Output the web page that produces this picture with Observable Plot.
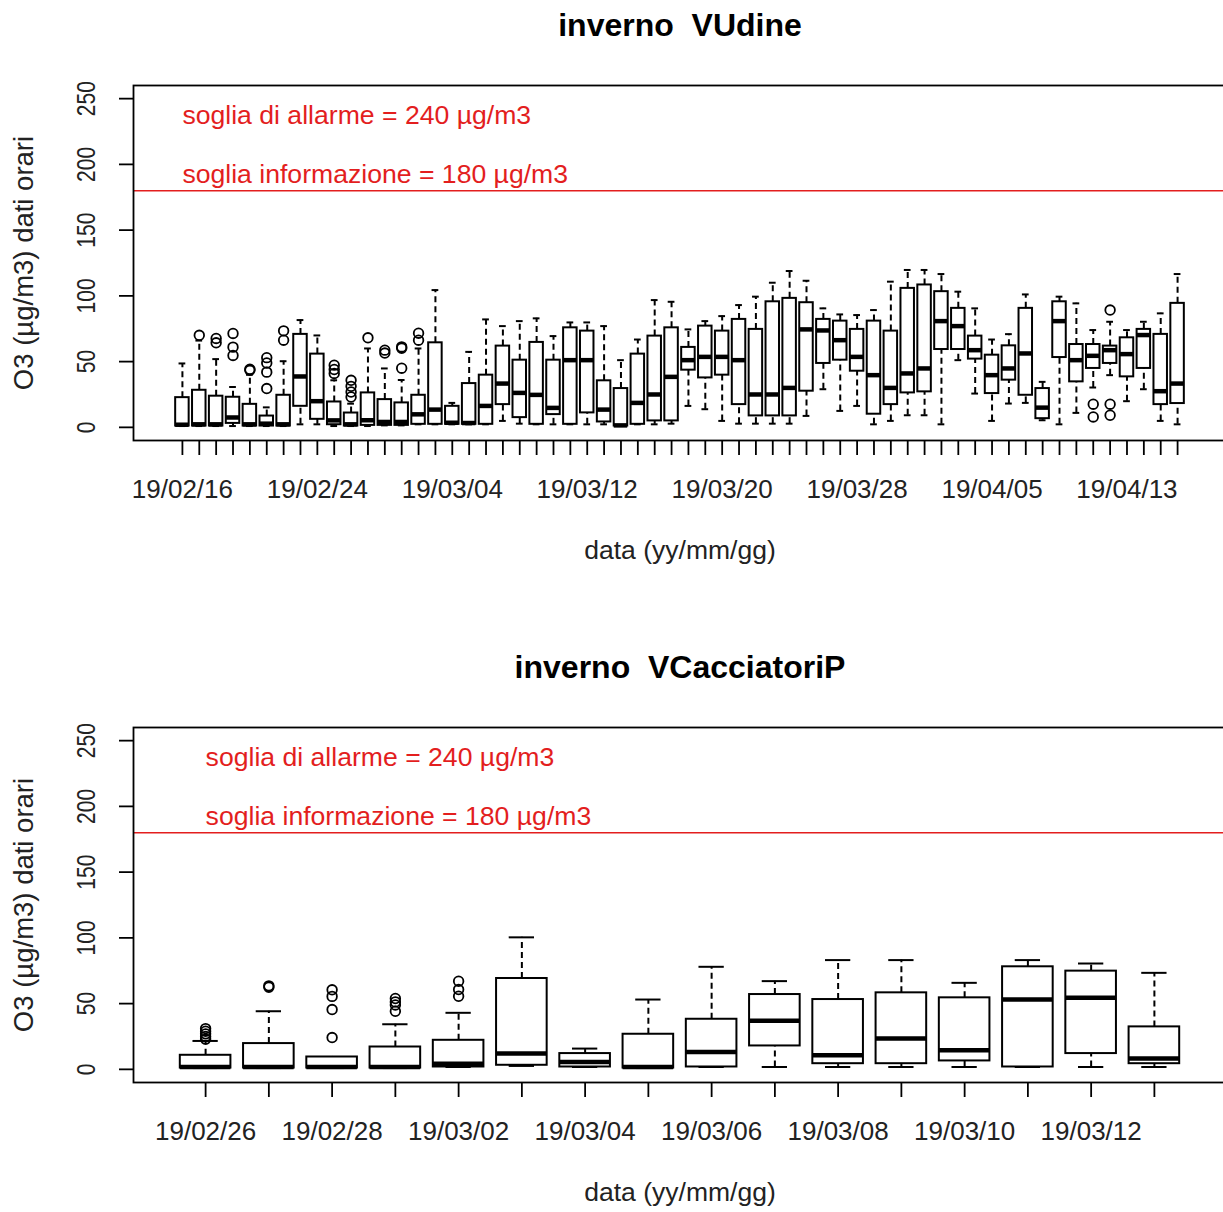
<!DOCTYPE html>
<html>
<head>
<meta charset="utf-8">
<script src="https://cdn.jsdelivr.net/npm/d3@7"></script>
<script src="https://cdn.jsdelivr.net/npm/@observablehq/plot@0.6"></script>
<style>
html, body { margin: 0; padding: 0; background: #fff; overflow: hidden; width: 1223px; }
#chart svg { display: block; max-width: none; }
</style>
</head>
<body>
<div id="chart"></div>
<script>
// ---------- Panel 1: inverno VUdine ----------
const udineTitle = "inverno  VUdine";
const udineDates = [
  "19/02/16","19/02/17","19/02/18","19/02/19","19/02/20","19/02/21","19/02/22","19/02/23","19/02/24","19/02/25",
  "19/02/26","19/02/27","19/02/28","19/03/01","19/03/02","19/03/03","19/03/04","19/03/05","19/03/06","19/03/07",
  "19/03/08","19/03/09","19/03/10","19/03/11","19/03/12","19/03/13","19/03/14","19/03/15","19/03/16","19/03/17",
  "19/03/18","19/03/19","19/03/20","19/03/21","19/03/22","19/03/23","19/03/24","19/03/25","19/03/26","19/03/27",
  "19/03/28","19/03/29","19/03/30","19/03/31","19/04/01","19/04/02","19/04/03","19/04/04","19/04/05","19/04/06",
  "19/04/07","19/04/08","19/04/09","19/04/10","19/04/11","19/04/12","19/04/13","19/04/14","19/04/15","19/04/16"
];
const udineShown = ["19/02/16","19/02/24","19/03/04","19/03/12","19/03/20","19/03/28","19/04/05","19/04/13"];
const udineLo  = [1,1,1,1,1,1,1,2.3,2.3,1, 1,1,1.5,1.5,2.3,2.3,2.3,2.3,2.3,4.9, 2.8,2.3,2.3,2.3,2.3,2.3,1,2.3,2.3,2.8,
                  16.3,13.8,4.9,2.8,2.8,2.8,2.8,8.7,29,12.5, 16.3,2.3,4.9,9.2,9.2,2.3,51.1,25.7,4.9,18.1, 18.6,5.4,2.3,11,30.3,39.7,19.9,29,4.9,2.3];
const udineQ1  = [1,1,1,3,1,1,1,16,6.1,2, 1,1.5,1.5,1.5,2.3,2.3,2.3,2.3,2.3,17.3, 7.4,2.3,9.7,2.3,11,4.1,1,2.3,4.9,4.9,
                  43.5,37.6,39.7,17.3,8.7,8.7,8.7,27.5,48.6,51.1, 42.7,10,17.3,26.2,27,59.2,59.2,51.9,25.7,35.9, 24.4,6.6,53.1,34.6,44.8,48.6,38.4,44.8,17.3,18.1];
const udineMed = [2,2.3,2.3,7.5,2.3,2.8,2.3,38.7,19.9,5.3, 2.3,5.4,4.1,4.1,9.9,13.5,3.5,3.3,16.3,33.3, 26.2,24.7,14.8,51.1,51.1,13.5,1.5,18.6,25,38.4,
                  51.1,53.6,53.6,51.1,25,25,30,74.5,73.7,66.3, 53.6,39.7,30,41,44.8,80.8,77,58.7,39.7,44.8, 56.2,15,80.8,51.1,54.4,58.7,55.7,70.2,27.5,33.3];
const udineQ3  = [22.6,28.2,23.7,22.9,17.5,8.6,24.4,70.7,55.7,19.3, 10.9,26.2,21.1,18.6,24.4,64.3,16,33.3,39.7,61.8, 51.1,64.6,51.1,75.7,73.2,35.4,29.5,55.7,69.4,75.7,
                  60.8,77,73.2,82.1,74.5,95.5,98.1,94.8,82.1,80.8, 74.5,80.8,73.2,105.7,108.3,103.2,90.5,69.4,54.9,62, 90.5,29.5,95.5,63,63,61.8,68.1,74.5,70.7,94.3];
const udineHi  = [48.6,66,51.9,30.7,40,15.2,50.3,81.6,69.9,35.8, 18,60,44.8,36,60,104.4,18.6,57.4,82.1,77, 80.8,82.9,69.4,79.8,79.8,77,51.1,66.8,96.8,95.5,
                  74.5,80.8,84.6,93,99.4,110,118.9,111.5,90.5,85.9, 85.4,89.2,110.8,119.7,119.7,116.6,103.2,90.5,66.8,70.9, 101.1,34.6,99.4,94.3,74,80.3,74,80.3,86.7,116.6];
// outliers: [box number, value]
const udineOut = [
  [2,70],[3,67.6],[3,64.3],[4,71.4],[4,61],[4,54.7],[5,43.4],[5,44.2],[6,53],[6,49],[6,42],[6,29.5],
  [7,73.4],[7,66.3],[10,47.3],[10,44],[10,41],[11,35.8],[11,31.2],[11,26.9],[11,23.1],[12,68.1],
  [13,58.7],[13,56.5],[14,61.2],[14,60.2],[14,45],[15,71.6],[15,66.3],
  [55,17.6],[55,7.9],[56,89.2],[56,17.6],[56,9.2]
];

// ---------- Panel 2: inverno VCacciatoriP ----------
const cacTitle = "inverno  VCacciatoriP";
const cacDates = ["19/02/26","19/02/27","19/02/28","19/03/01","19/03/02","19/03/03","19/03/04","19/03/05",
                  "19/03/06","19/03/07","19/03/08","19/03/09","19/03/10","19/03/11","19/03/12","19/03/13"];
const cacShown = ["19/02/26","19/02/28","19/03/02","19/03/04","19/03/06","19/03/08","19/03/10","19/03/12"];
const cacLo  = [1,1,1,1,1.8,2.6,1.8,1,1.8,1.8,1.8,1.8,1.8,1.8,1.8,1.8];
const cacQ1  = [1,1,1,1,1.8,3.1,1.8,1,1.8,17.8,4.3,4.3,6.4,1.8,12,4.3];
const cacMed = [1.8,1.8,1.8,1.8,4.3,12,5.6,1.8,13.2,36.9,10.7,23.4,14.5,53.1,54.4,8.2];
const cacQ3  = [10.7,19.6,9.4,17,22.1,69.1,12,26.7,38.1,56.9,53.1,58.2,54.4,78,74.7,32.3];
const cacHi  = [21.6,44.2,9.4,34.3,43,100.4,15.8,53.1,78,67.1,83.1,83.1,65.8,83.1,80.5,73.4];
const cacOut = [
  [1,31],[1,29],[1,27],[1,25],[1,23],[2,63.5],[2,62.5],
  [3,60.5],[3,55.5],[3,45.5],[3,24.2],[4,53.9],[4,51.3],[4,49],[4,44.2],[5,67],[5,60.7],[5,55.6]
];

// ---------- shared ----------
const yTicks = [0, 50, 100, 150, 200, 250];
const thresholdValues = [240, 180];
const thresholdLabels = ["soglia di allarme = 240 µg/m3", "soglia informazione = 180 µg/m3"];
const yTitle = "O3 (µg/m3) dati orari";
const xTitle = "data (yy/mm/gg)";

const RED = "#e31e1e";
const FONT = "Liberation Sans, Arial, Helvetica, sans-serif";

function panel({title, dates, shown, lo, q1, med, q3, hi, out, height}) {
  const n = dates.length;
  const ext = 0.04 * n;
  const rows = dates.map((d, k) => ({i: k + 1, date: d, lo: lo[k], q1: q1[k], med: med[k], q3: q3[k], hi: hi[k]}));
  const outs = out.map(([b, v]) => ({i: b, v}));
  const bw = 0.4, cw = 0.2;
  const svg = Plot.plot({
    width: 1226,
    height,
    marginLeft: 133,
    marginRight: 0,
    marginTop: 85,
    marginBottom: height - 440,
    style: {fontFamily: FONT, background: "white", color: "#000", overflow: "visible"},
    x: {domain: [0.5 - ext, n + 0.5 + ext]},
    y: {domain: [-10, 260]},
    marks: [
      // threshold line (information)
      Plot.ruleY([thresholdValues[1]], {stroke: RED, strokeWidth: 1.6}),
      Plot.text([thresholdLabels[0]], {x: rows[0].i, y: thresholdValues[0], text: d => d, textAnchor: "start",
        fill: RED, fontSize: 26.6, dy: 4}),
      Plot.text([thresholdLabels[1]], {x: rows[0].i, y: thresholdValues[1], text: d => d, textAnchor: "start",
        fill: RED, fontSize: 26.6, dy: -16}),
      // whiskers
      Plot.ruleX(rows, {x: "i", y1: "q3", y2: "hi", stroke: "black", strokeWidth: 2, strokeDasharray: "6,4"}),
      Plot.ruleX(rows, {x: "i", y1: "lo", y2: "q1", stroke: "black", strokeWidth: 2, strokeDasharray: "6,4"}),
      // staples
      Plot.ruleY(rows, {y: "hi", x1: d => d.i - cw, x2: d => d.i + cw, stroke: "black", strokeWidth: 2}),
      Plot.ruleY(rows, {y: "lo", x1: d => d.i - cw, x2: d => d.i + cw, stroke: "black", strokeWidth: 2}),
      // boxes
      Plot.rect(rows, {x1: d => d.i - bw, x2: d => d.i + bw, y1: "q1", y2: "q3", fill: "white", stroke: "black", strokeWidth: 2}),
      // medians
      Plot.ruleY(rows, {y: "med", x1: d => d.i - bw, x2: d => d.i + bw, stroke: "black", strokeWidth: 4.5}),
      // outliers
      Plot.dot(outs, {x: "i", y: "v", r: 4.8, stroke: "black", strokeWidth: 1.8, fill: "none"}),
      // frame
      Plot.frame({stroke: "black", strokeWidth: 1.8}),
      // axes
      Plot.axisX(rows.map(d => d.i), {anchor: "bottom", tickSize: 15, tickPadding: 24, strokeWidth: 1.8,
        tickFormat: i => shown.includes(dates[i - 1]) ? dates[i - 1] : "", fontSize: 26, fill: "#222", label: null}),
      Plot.axisY(yTicks, {anchor: "left", tickSize: 14, strokeWidth: 1.8, tickFormat: () => "", label: null}),
      Plot.text(yTicks, {y: d => d, frameAnchor: "left", dx: -47, rotate: -90, text: d => String(d),
        textAnchor: "middle", lineAnchor: "middle", fontSize: 21, fill: "#222"}),
      Plot.text([yTitle], {frameAnchor: "left", dx: -109, rotate: -90, text: d => d, textAnchor: "middle",
        lineAnchor: "middle", fontSize: 27.5, fill: "#222"}),
      Plot.text([xTitle], {frameAnchor: "bottom", dy: 110, text: d => d, lineAnchor: "middle", fontSize: 26.5, fill: "#222"}),
      Plot.text([title], {frameAnchor: "top", dy: -60, text: d => d, lineAnchor: "middle", fontSize: 32,
        fontWeight: "bold", fill: "#000"})
    ]
  });
  // widen the rotated y tick labels horizontally (the reference glyphs are stretched)
  const tickStrings = yTicks.map(String);
  svg.querySelectorAll("text").forEach(t => {
    const tr = t.getAttribute("transform");
    if (tr && /rotate\(-90\)/.test(tr) && tickStrings.includes(t.textContent)) {
      t.setAttribute("transform", tr.replace("rotate(-90)", "scale(1.2,1) rotate(-90)"));
    }
  });
  return svg;
}

const chart = document.getElementById("chart");
chart.append(panel({title: udineTitle, dates: udineDates, shown: udineShown, lo: udineLo, q1: udineQ1, med: udineMed,
  q3: udineQ3, hi: udineHi, out: udineOut, height: 642}));
chart.append(panel({title: cacTitle, dates: cacDates, shown: cacShown, lo: cacLo, q1: cacQ1, med: cacMed,
  q3: cacQ3, hi: cacHi, out: cacOut, height: 570}));
</script>
</body>
</html>
